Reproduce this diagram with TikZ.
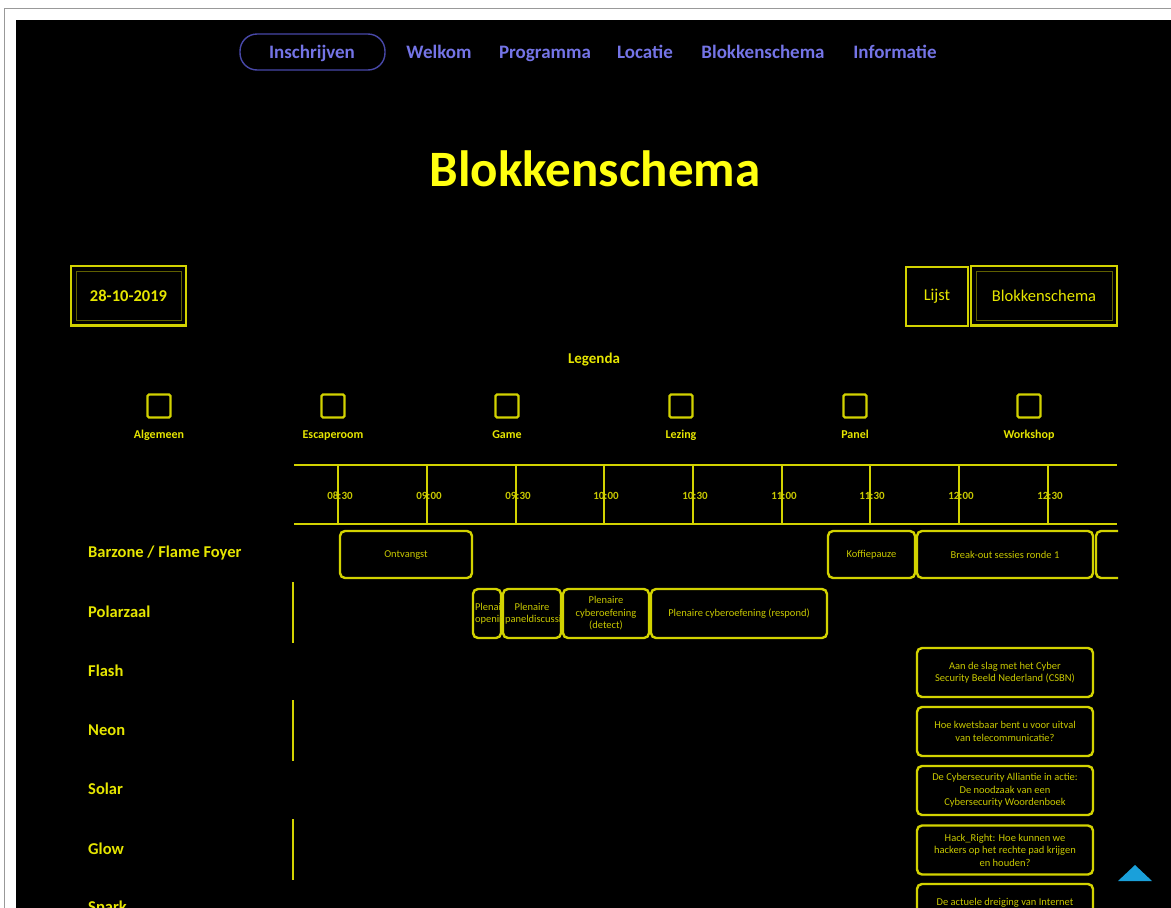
\documentclass[tikz,border=0pt]{standalone}
\usepackage{fontspec}
\setmainfont{Carlito}
\definecolor{ylw}{HTML}{D2D200}
\definecolor{ytxt}{HTML}{C8C800}
\definecolor{ybright}{HTML}{FFFF10}
\definecolor{ylab}{HTML}{E6E600}
\definecolor{navc}{HTML}{7474E6}
\definecolor{pillc}{HTML}{4848A8}
\definecolor{skyb}{HTML}{1AA0DA}
\tikzset{
  blk/.style={draw=ylw, line width=2.4pt, rounded corners=5pt, inner sep=1pt,
    text=ytxt, font=\fontsize{10.5}{12.5}\selectfont, align=center},
  btn/.style={draw=ylw, line width=2.4pt, inner sep=0pt, text=ylab,
    font=\fontsize{16.5}{19}\selectfont},
  nav/.style={text=navc, font=\fontsize{19}{22}\selectfont\bfseries, inner sep=0pt, anchor=base},
  rowlab/.style={anchor=west, text=ylab, font=\fontsize{16.5}{19}\selectfont\bfseries, inner sep=0pt},
  legsq/.style={draw=ylw, line width=2.2pt, rounded corners=1.5pt, minimum size=23pt, inner sep=0pt},
  leglab/.style={text=ylab, font=\fontsize{12}{14}\selectfont\bfseries, inner sep=0pt},
  tick/.style={text=ytxt, font=\fontsize{11}{13}\selectfont\bfseries, inner sep=0pt},
  tline/.style={draw=ylw, line width=2.2pt},
}
\begin{document}
\begin{tikzpicture}[x=1pt,y=-1pt]
\useasboundingbox (0,0) rectangle (1171,908);
\fill[white] (0,0) rectangle (1171,908);
\draw[gray!80, line width=1.6pt] (4.5,908) -- (4.5,8.5) -- (1171,8.5);
\fill[black] (16,20) rectangle (1171,908);
\clip (16,20) rectangle (1171,908);

% navigation
\draw[pillc, line width=1.4pt, rounded corners=17pt] (240,34) rectangle (385,70);
\node[nav] (n1) at (312,58) {Inschrijven};
\node[nav] (n2) at (439,58) {Welkom};
\node[nav] (n3) at (545,58) {Programma};
\node[nav] (n4) at (645,58) {Locatie};
\node[nav] (n5) at (763,58) {Blokkenschema};
\node[nav] (n6) at (895,58) {Informatie};

% title
\node[text=ybright, font=\fontsize{51}{58}\selectfont\bfseries, inner sep=0pt] (title) at (595,169) {Blokkenschema};

% buttons
\node[btn, minimum width=115pt, minimum height=60pt, font=\fontsize{16.5}{19}\selectfont\bfseries] (date) at (128.5,296) {28-10-2019};
\draw[ylw!45!black, line width=0.8pt] (76,271) rectangle (181,320);
\draw[ylw, line width=3pt] (71,325) -- (186,325);
\node[btn, minimum width=62pt, minimum height=59pt] (lijst) at (937,296.5) {Lijst};
\node[btn, minimum width=146pt, minimum height=60pt] (blok) at (1044,296) {Blokkenschema};
\draw[ylw!45!black, line width=0.8pt] (976,271) rectangle (1112,320);
\draw[ylw, line width=3pt] (971,325) -- (1117,325);

% legend
\node[leglab, font=\fontsize{15}{17}\selectfont\bfseries] (leg) at (594,360) {Legenda};
\foreach \x/\lab/\nm in {159/Algemeen/a,333/Escaperoom/b,507/Game/c,681/Lezing/d,855/Panel/e,1029/Workshop/f}{
  \node[legsq] (sq\nm) at (\x,406) {};
  \node[leglab, anchor=base] (lb\nm) at (\x,438) {\lab};
}

% timeline
\begin{scope}
\clip (290,440) rectangle (1118,908);
\coordinate (tl1) at (294,465);
\coordinate (tr1) at (1117,465);
\coordinate (tl2) at (294,524);
\coordinate (tr2) at (1117,524);
\draw[tline] (tl1) -- (tr1);
\draw[tline] (tl2) -- (tr2);
\foreach \x/\t/\nm in {338/08:30/a,427/09:00/b,516/09:30/c,604/10:00/d,693/10:30/e,782/11:00/f,870/11:30/g,959/12:00/h,1048/12:30/i}{
  \node[tick] (tk\nm) at (\x+2,496) {\t};
  \coordinate (ta\nm) at (\x,465);
  \coordinate (tb\nm) at (\x,524);
  \draw[line width=2pt, ylw] (ta\nm) -- (tb\nm);
}

% Barzone row
\node[blk, minimum width=132pt, minimum height=47pt] (ontv) at (406,554.5) {Ontvangst};
\node[blk, minimum width=87pt, minimum height=47pt] (koffie) at (871.5,554.5) {Koffiepauze};
\node[blk, minimum width=176pt, minimum height=47pt] (break1) at (1005,554.5) {Break-out sessies ronde 1};
\node[blk, minimum width=108pt, minimum height=47pt] (next1) at (1150,554.5) {};

% Polarzaal row
\node[blk, minimum width=28pt, minimum height=49pt] (plopen) at (487,613.5) {};
\begin{scope}
\clip (plopen.south west) rectangle (plopen.north east);
\node[blk, draw=none, text width=24pt] (plopent) at (plopen.center) {\hbox{Plenaire}\\\hbox{opening}};
\end{scope}
\node[blk, minimum width=58pt, minimum height=49pt] (plpan) at (532,613.5) {};
\begin{scope}
\clip (plpan.south west) rectangle (plpan.north east);
\node[blk, draw=none, text width=54pt] (plpant) at (plpan.center) {\hbox{Plenaire}\\\hbox{paneldiscussie}};
\end{scope}
\node[blk, minimum width=86pt, minimum height=49pt] (pldet) at (606,613.5) {Plenaire\\cyberoefening\\(detect)};
\node[blk, minimum width=176pt, minimum height=49pt] (plres) at (739,613.5) {Plenaire cyberoefening (respond)};

% right column sessions
\node[blk, minimum width=176pt, minimum height=49pt] (flash1) at (1005,672.5) {Aan de slag met het Cyber\\Security Beeld Nederland (CSBN)};
\node[blk, minimum width=176pt, minimum height=49pt] (neon1) at (1005,731.5) {Hoe kwetsbaar bent u voor uitval\\van telecommunicatie?};
\node[blk, minimum width=176pt, minimum height=49pt] (solar1) at (1005,790.5) {De Cybersecurity Alliantie in actie:\\De noodzaak van een\\Cybersecurity Woordenboek};
\node[blk, minimum width=176pt, minimum height=49pt] (glow1) at (1005,850) {Hack\_Right: Hoe kunnen we\\hackers op het rechte pad krijgen\\en houden?};
\node[blk, minimum width=176pt, minimum height=49pt] (spark1) at (1005,908.5) {De actuele dreiging van Internet\\of Things};
\end{scope}

% row labels
\node[rowlab] (r1) at (88,553) {Barzone / Flame Foyer};
\node[rowlab] (r2) at (88,612) {Polarzaal};
\node[rowlab] (r3) at (88,671) {Flash};
\node[rowlab] (r4) at (88,730) {Neon};
\node[rowlab] (r5) at (88,789) {Solar};
\node[rowlab] (r6) at (88,849) {Glow};
\node[rowlab] (r7) at (88,908) {Spark};

% row bars
\foreach \ya/\yb/\nm in {582/643/a,700/761/b,819/880/c}{
  \coordinate (ba\nm) at (293,\ya);
  \coordinate (bb\nm) at (293,\yb);
  \draw[ylw, line width=2.4pt] (ba\nm) -- (bb\nm);
}

% scroll-to-top triangle
\fill[skyb] (1118,881) -- (1152,881) -- (1135,865) -- cycle;
\end{tikzpicture}
\end{document}
